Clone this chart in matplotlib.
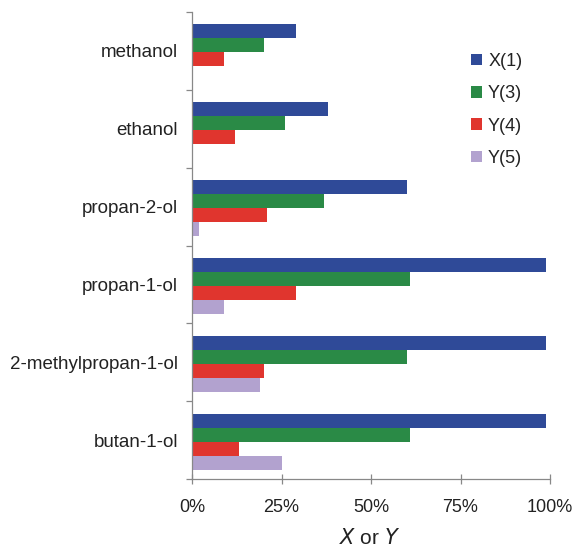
import numpy as np
import matplotlib
matplotlib.use("Agg")
import matplotlib.pyplot as plt
from matplotlib.ticker import FixedLocator, PercentFormatter

plt.rcParams['font.family'] = ['Liberation Sans', 'DejaVu Sans']

categories = ["methanol", "ethanol", "propan-2-ol", "propan-1-ol",
              "2-methylpropan-1-ol", "butan-1-ol"]
series_names = ["X(1)", "Y(3)", "Y(4)", "Y(5)"]
x1 = [29.0, 38.0, 60.0, 99.0, 99.0, 99.0]
y3 = [20.0, 26.0, 37.0, 61.0, 60.0, 61.0]
y4 = [9.0, 12.0, 21.0, 29.0, 20.0, 13.0]
y5 = [0.0, 0.0, 2.0, 9.0, 19.0, 25.0]
x_ticks = [0, 25, 50, 75, 100]

colors = ["#2f4a98", "#2a8a46", "#e0352e", "#b2a2cf"]

fig = plt.figure(figsize=(5.75, 5.48), dpi=100)
ax = fig.add_axes([192 / 575, 69 / 548, 358 / 575, 467 / 548])

pos = np.arange(len(categories))
bar_h = 0.18
for k, (vals, name, col) in enumerate(zip([x1, y3, y4, y5], series_names, colors)):
    ax.barh(pos + (k - 1.5) * bar_h + 0.02, vals, height=bar_h, color=col,
            label=name, linewidth=0)

ax.set_xlim(0, 100)
ax.set_ylim(len(categories) - 0.5, -0.5)

ax.set_xticks(x_ticks)
ax.xaxis.set_major_formatter(PercentFormatter(decimals=0))
ax.tick_params(axis='x', direction='inout', length=7, width=0.9,
               color='#888888', labelsize=13, labelcolor='#222222', pad=11)

ax.set_yticks(pos)
ax.set_yticklabels(categories)
ax.yaxis.set_minor_locator(FixedLocator(np.arange(-0.5, len(categories), 1.0)))
ax.tick_params(axis='y', which='major', length=0, labelsize=13.5,
               labelcolor='#222222', pad=10)
ax.tick_params(axis='y', which='minor', direction='out', length=4, width=0.9,
               color='#888888')

for side in ['top', 'right']:
    ax.spines[side].set_visible(False)
for side in ['left', 'bottom']:
    ax.spines[side].set_color('#888888')
    ax.spines[side].set_linewidth(0.9)

# axis title below the percentage ticks
fig.text(370 / 575, 1 - 538 / 548, "$X$ or $Y$", ha='center', va='center',
         fontsize=15, color='#222222')

leg = ax.legend(loc='upper left', bbox_to_anchor=(0.759, 0.928), frameon=False,
                fontsize=13, handlelength=0.6, handleheight=0.6,
                handletextpad=0.35, labelspacing=0.85, borderaxespad=0)
for t in leg.get_texts():
    t.set_color('#222222')

fig.savefig("out.png", dpi=100)
